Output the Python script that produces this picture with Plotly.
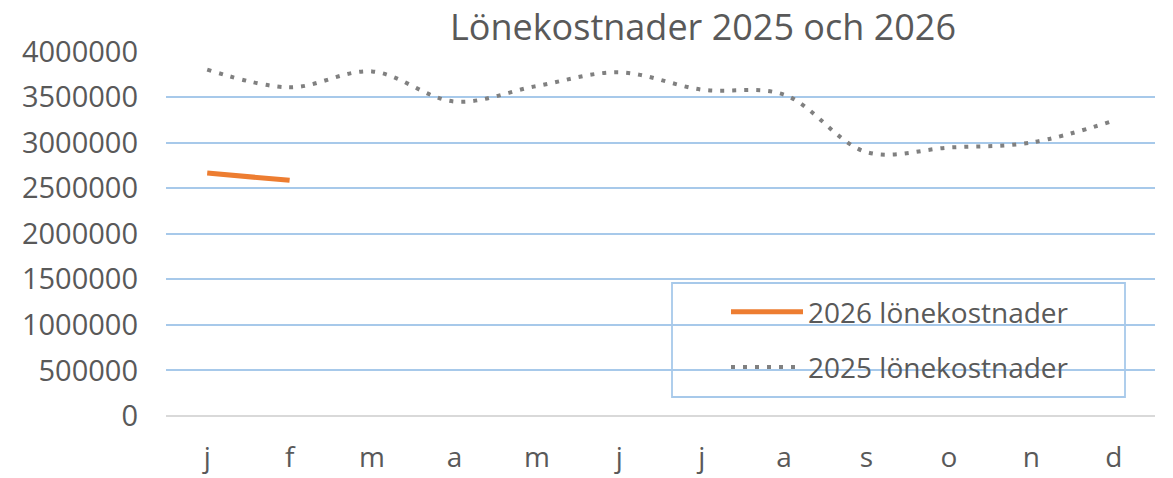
import plotly.graph_objects as go

months = ["j", "f", "m", "a", "m", "j", "j", "a", "s", "o", "n", "d"]
x_idx = list(range(len(months)))
cost_2025 = [3800000, 3605000, 3780000, 3450000, 3620000, 3770000, 3580000, 3525000, 2895000, 2945000, 3000000, 3240000]
cost_2026 = [2665000, 2585000]
name_2025 = "2025 lönekostnader"
name_2026 = "2026 lönekostnader"
title_text = "Lönekostnader 2025 och 2026"
y_ticks = [0, 500000, 1000000, 1500000, 2000000, 2500000, 3000000, 3500000, 4000000]

FONT = "Open Sans"
TXT = "#595959"

fig = go.Figure()
fig.add_trace(go.Scatter(
    x=x_idx[:len(cost_2026)], y=cost_2026, name=name_2026, mode="lines",
    line=dict(color="#ED7D31", width=5), legendgroup="a",
))
fig.add_trace(go.Scatter(
    x=x_idx, y=cost_2025, name=name_2025, mode="lines",
    line=dict(color="#808080", width=4, dash="4px,8px", shape="spline", smoothing=1.0),
    legendgroup="b",
))

# page body has an 8px default margin; work in screen pixels and shift
OFF = 8
W, H = 1173 - OFF, 478 - OFF
plot_left, plot_right, plot_top, plot_bottom = 166, 1155, 51, 416
L = plot_left - OFF
R = W - (plot_right - OFF)
T = plot_top - OFF
B = H - (plot_bottom - OFF)
pw, ph = W - L - R, H - T - B

def px2x(p):
    return (p - OFF - L) / pw

def px2y(p):
    return (H - B - (p - OFF)) / ph

fig.update_layout(
    width=W, height=H,
    margin=dict(l=L, r=R, t=T, b=B, autoexpand=False),
    paper_bgcolor="white", plot_bgcolor="white",
    font=dict(family=FONT, color=TXT, size=28),
    title=dict(text=title_text, x=(703 - OFF) / W, xanchor="center",
               y=1 - (27 - OFF) / H, yanchor="middle",
               font=dict(family=FONT, size=36, color=TXT)),
    xaxis=dict(
        range=[-0.5, 11.5], tickmode="array", tickvals=x_idx, ticktext=months,
        showgrid=False, zeroline=False, showline=False, ticks="", automargin=False,
        ticklabelstandoff=22, tickfont=dict(size=28, color=TXT, family=FONT),
    ),
    yaxis=dict(
        range=[0, 4004000], tickmode="array", tickvals=y_ticks,
        ticktext=[str(v) for v in y_ticks],
        showgrid=True, gridcolor="#A7C9EA", gridwidth=1.8,
        zeroline=True, zerolinecolor="#D9D9D9", zerolinewidth=2,
        showline=False, ticks="", ticklabelstandoff=27, automargin=False,
        tickfont=dict(size=29, color=TXT, family=FONT),
    ),
    showlegend=True,
    legend=dict(
        x=px2x(726), y=px2y(287), xanchor="left", yanchor="top",
        bgcolor="rgba(0,0,0,0)", borderwidth=0,
        font=dict(size=28, color=TXT, family=FONT),
        traceorder="grouped", tracegroupgap=16, itemwidth=72,
    ),
    shapes=[dict(
        type="rect", xref="paper", yref="paper",
        x0=px2x(672), x1=px2x(1125), y0=px2y(397), y1=px2y(283),
        line=dict(color="#A7C9EA", width=1.8), fillcolor="white", layer="below",
    )],
)

fig.write_html("out.html")
